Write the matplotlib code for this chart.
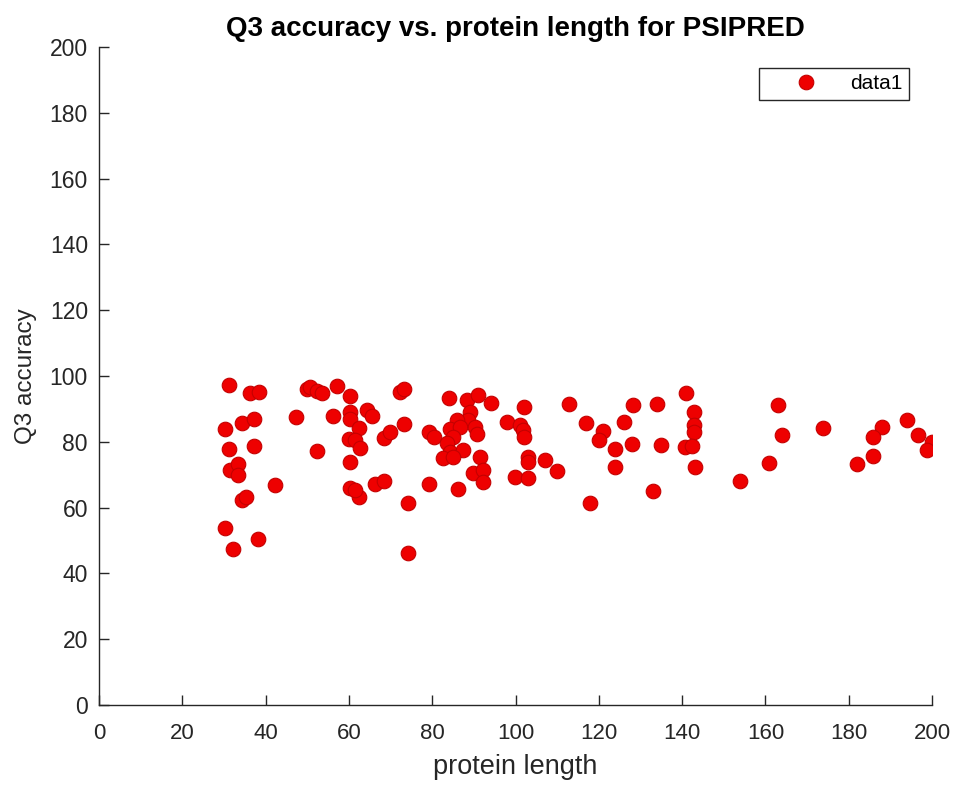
import matplotlib
matplotlib.use('Agg')
import matplotlib.pyplot as plt

plt.rcParams['font.family'] = ['Liberation Sans', 'DejaVu Sans']

# protein length vs Q3 accuracy
length = [31.3, 36.3, 38.4, 49.9, 47.2, 34.3, 37.2, 30.3, 31.3, 37.2,
          31.5, 33.4, 33.4, 42.3, 34.3, 35.3, 30.3, 38.2, 32.2, 52.3,
          50.7, 52.3, 53.5, 57.2, 60.3, 56.1, 60.3, 60.3, 64.3, 65.5,
          62.3, 59.9, 61.5, 62.7, 60.3, 68.3, 69.9, 73.2, 72.3, 73.2,
          60.3, 62.3, 61.5, 66.3, 68.3, 74.1, 74.1, 79.1, 79.3, 80.3,
          84.1, 88.3, 91.1, 94.0, 89.1, 88.7, 85.9, 84.3, 86.7, 90.3,
          90.7, 85.1, 83.5, 84.3, 87.5, 82.7, 85.1, 91.5, 89.9, 92.1,
          92.1, 86.1, 97.9, 101.1, 101.9, 102.0, 102.0, 103.1, 103.1, 107.1,
          110.0, 99.9, 103.1, 112.9, 116.9, 121.1, 120.1, 123.9, 123.9, 117.9,
          126.0, 128.1, 127.9, 134.0, 134.8, 132.9, 140.9, 142.9, 142.9, 142.9,
          140.7, 142.3, 143.1, 162.9, 163.9, 160.9, 153.9, 173.9, 187.9, 185.8,
          185.8, 181.9, 193.9, 196.7, 199.9, 198.7]
q3 = [97.2, 94.7, 95.1, 96.2, 87.5, 85.7, 86.8, 83.8, 77.7, 78.7,
      71.4, 73.3, 69.9, 67.0, 62.3, 63.1, 53.7, 50.3, 47.3, 77.3,
      96.8, 95.5, 94.7, 97.0, 93.9, 87.8, 89.2, 86.8, 89.7, 87.8,
      84.1, 80.7, 80.5, 78.0, 73.8, 81.3, 83.1, 85.4, 95.2, 96.2,
      66.0, 63.3, 65.3, 67.2, 68.2, 61.3, 46.3, 67.3, 83.1, 81.6,
      93.2, 92.7, 94.2, 91.9, 89.2, 86.6, 86.6, 84.0, 84.6, 84.6,
      82.5, 81.6, 79.5, 77.0, 77.5, 75.0, 75.5, 75.5, 70.4, 71.4,
      67.9, 65.5, 86.1, 85.1, 83.6, 81.6, 90.7, 75.5, 74.0, 74.5,
      71.1, 69.4, 69.1, 91.6, 85.8, 83.4, 80.5, 77.7, 72.3, 61.3,
      86.1, 91.2, 79.3, 91.6, 78.9, 65.1, 94.9, 89.2, 85.1, 83.1,
      78.3, 78.7, 72.4, 91.2, 82.1, 73.7, 68.1, 84.3, 84.6, 81.6,
      75.7, 73.4, 86.6, 82.2, 80.0, 77.5]

fig = plt.figure(figsize=(9.55, 7.85), dpi=100)
ax = fig.add_axes([0.1037, 0.102, 0.8723, 0.838])

ax.plot(length, q3, 'o', color='#ee0000', markeredgecolor='#c40000',
        markersize=10.5, markeredgewidth=0.8, label='data1')

ax.set_xlim(0, 200)
ax.set_ylim(0, 200)
ax.set_xticks(range(0, 201, 20))
ax.set_yticks(range(0, 201, 20))

dark = '#262626'
for side in ['top', 'right']:
    ax.spines[side].set_visible(False)
for side in ['left', 'bottom']:
    ax.spines[side].set_color(dark)
    ax.spines[side].set_linewidth(1.0)
ax.tick_params(direction='in', length=7, width=1.0, colors=dark)
ax.tick_params(axis='x', labelsize=16, pad=13)
ax.tick_params(axis='y', labelsize=16.5, pad=8)

ax.set_xlabel('protein length', fontsize=19.5, color=dark, labelpad=7)
ax.set_ylabel('Q3 accuracy', fontsize=17.5, color=dark, labelpad=9)
ax.set_title('Q3 accuracy vs. protein length for PSIPRED',
             fontsize=20, fontweight='bold', pad=8)

leg = ax.legend(loc='upper right', bbox_to_anchor=(0.9724, 0.968),
                borderaxespad=0, fontsize=15, frameon=True, fancybox=False,
                handletextpad=0.2, borderpad=0.3, handlelength=3.9)
leg.get_frame().set_edgecolor(dark)
leg.get_frame().set_linewidth(1.0)
leg.get_frame().set_alpha(1)

plt.savefig('out.png', dpi=100)
